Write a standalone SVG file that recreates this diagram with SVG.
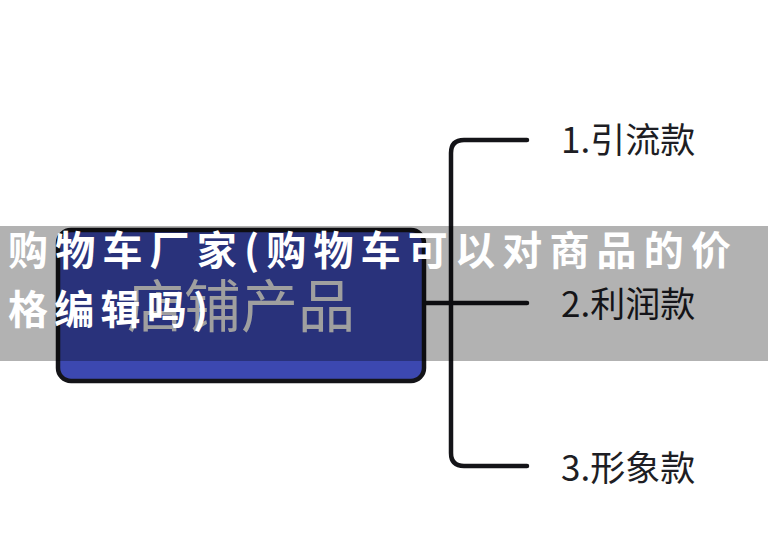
<svg xmlns="http://www.w3.org/2000/svg" width="768" height="556" viewBox="0 0 768 556">
<style>
.lbl{font-family:"Noto Sans CJK SC","Noto Sans",sans-serif;font-size:35px;fill:#1e1e24}
.conn{fill:none;stroke:#141418;stroke-width:4.5;stroke-linecap:round;stroke-linejoin:round}
</style>
<rect width="768" height="556" fill="#ffffff"/>
<g id="connectors">
<path class="conn" d="M424,303 H527"/>
<path class="conn" d="M527,140 H464 Q451,140 451,153 V453 Q451,466 464,466 H527"/>
</g>
<g id="node-root">
<rect x="58" y="230" width="366" height="151" rx="13" fill="#3c48b0" stroke="#141418" stroke-width="4.5"/>
<text x="241" y="327" text-anchor="middle" font-family="'Noto Sans CJK SC','Noto Sans',sans-serif" font-size="57" fill="#e4e4e4">店铺产品</text>
</g>
<g id="node-1"><text class="lbl" x="561" y="153">1.引流款</text></g>
<g id="node-2"><text class="lbl" x="561" y="317">2.利润款</text></g>
<g id="node-3"><text class="lbl" x="561" y="481">3.形象款</text></g>
<g id="banner">
<rect x="0" y="226" width="768" height="135" fill="#000000" fill-opacity="0.3"/>
<text x="8" y="265" font-family="'Noto Sans CJK SC',sans-serif" font-size="40" font-weight="bold" fill="#ffffff" textLength="723" lengthAdjust="spacing">购物车厂家(购物车可以对商品的价</text>
<text x="8" y="324" font-family="'Noto Sans CJK SC',sans-serif" font-size="40" font-weight="bold" fill="#ffffff" textLength="200" lengthAdjust="spacing">格编辑吗)</text>
</g>
</svg>
